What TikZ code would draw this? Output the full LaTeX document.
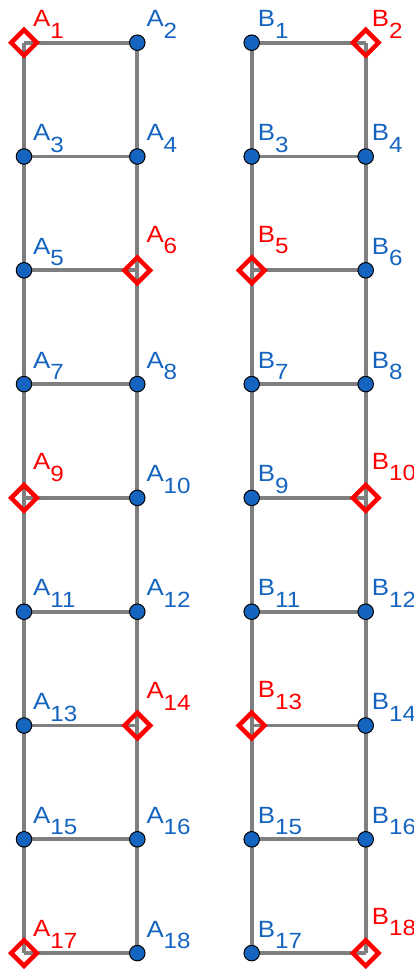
\documentclass[tikz,border=0pt]{standalone}
\usepackage{fontspec}
\setmainfont{Liberation Sans}[FakeStretch=1.1]
\usetikzlibrary{shapes.geometric}

\definecolor{ptblue}{HTML}{1565C0}
\definecolor{ptred}{HTML}{FF0000}
\definecolor{edgegray}{HTML}{7F7F7F}

\newcommand{\ptname}[2]{#1\raisebox{-11.5pt}{\fontsize{22}{22}\selectfont #2}}

\begin{document}
\begin{tikzpicture}[
    x=1pt, y=-1pt,
    edge/.style={draw=edgegray, line width=3.8pt},
    vertex/.style={circle, draw=black, line width=1pt, fill=ptblue, inner sep=0pt, minimum size=15.5pt},
    marked/.style={diamond, draw=ptred, line width=4.5pt, inner sep=0pt, minimum size=27.5pt},
    lbl/.style={anchor=base west, inner sep=0pt, font=\fontsize{23.5}{23.5}\selectfont}
]
\useasboundingbox (0,0) rectangle (413,974);

% Vertex positions of both ladders
\foreach \r in {1,...,9}{
    \pgfmathtruncatemacro{\i}{2*\r-1}
    \pgfmathtruncatemacro{\j}{2*\r}
    \pgfmathsetmacro{\y}{42.7+113.8*(\r-1)}
    \coordinate (A\i) at (24,\y);
    \coordinate (A\j) at (137.3,\y);
    \coordinate (B\i) at (251.7,\y);
    \coordinate (B\j) at (365.7,\y);
}

% Rungs
\foreach \r in {1,...,9}{
    \pgfmathtruncatemacro{\i}{2*\r-1}
    \pgfmathtruncatemacro{\j}{2*\r}
    \draw[edge] (A\i) -- (A\j);
    \draw[edge] (B\i) -- (B\j);
}

% Rails
\foreach \r in {1,...,8}{
    \pgfmathtruncatemacro{\i}{2*\r-1}
    \pgfmathtruncatemacro{\j}{2*\r}
    \pgfmathtruncatemacro{\k}{2*\r+1}
    \pgfmathtruncatemacro{\l}{2*\r+2}
    \draw[edge] (A\i) -- (A\k);
    \draw[edge] (A\j) -- (A\l);
    \draw[edge] (B\i) -- (B\k);
    \draw[edge] (B\j) -- (B\l);
}

% Ordinary points
\foreach \n in {2,3,4,5,7,8,10,11,12,13,15,16,18}{
    \node[vertex] (vA\n) at (A\n) {};
    \node[lbl, text=ptblue] (lA\n) at ([shift={(9pt,16pt)}]A\n) {\ptname{A}{\n}};
}
\foreach \n in {1,3,4,6,7,8,9,11,12,14,15,16,17}{
    \node[vertex] (vB\n) at (B\n) {};
    \node[lbl, text=ptblue] (lB\n) at ([shift={(6pt,16pt)}]B\n) {\ptname{B}{\n}};
}

% Marked points (some labels sit higher)
\foreach \n/\dy in {1/16,6/28,9/28,14/27,17/16.5}{
    \node[marked] (vA\n) at (A\n) {};
    \node[lbl, text=ptred] (lA\n) at ([shift={(9pt,\dy pt)}]A\n) {\ptname{A}{\n}};
}
\foreach \n/\dy in {2/16,5/28,10/28.5,13/28,18/29}{
    \node[marked] (vB\n) at (B\n) {};
    \node[lbl, text=ptred] (lB\n) at ([shift={(6pt,\dy pt)}]B\n) {\ptname{B}{\n}};
}

\end{tikzpicture}
\end{document}
